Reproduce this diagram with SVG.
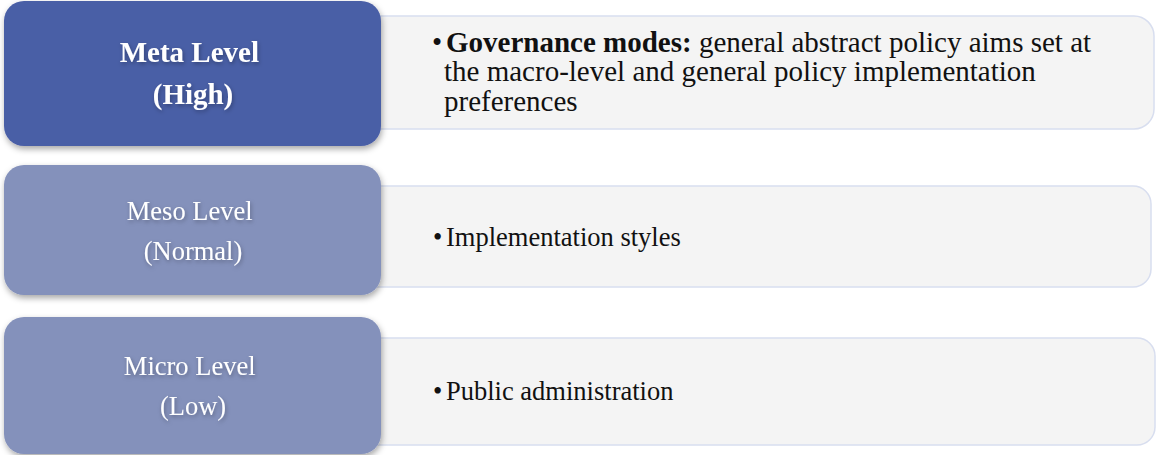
<svg xmlns="http://www.w3.org/2000/svg" width="1156" height="455" viewBox="0 0 1156 455">
  <defs>
    <filter id="boxShadow" x="-10%" y="-10%" width="125%" height="130%">
      <feDropShadow dx="1" dy="3" stdDeviation="3" flood-color="#000" flood-opacity="0.35"/>
    </filter>
    <filter id="txtShadow" x="-10%" y="-30%" width="120%" height="160%">
      <feDropShadow dx="1" dy="2" stdDeviation="2" flood-color="#000" flood-opacity="0.3"/>
    </filter>
  </defs>
  <style>
    .panel { fill: #f4f4f4; stroke: #d8deef; stroke-width: 1.5; }
    .lvlHigh { fill: #4a5ea6; }
    .lvl { fill: #8491bb; }
    .lvlTxt { font-family: "Liberation Serif", "Times New Roman", serif; fill: #ffffff; text-anchor: middle; }
    .body { font-family: "Liberation Serif", "Times New Roman", serif; fill: #111111; }
  </style>
  <rect width="1156" height="455" fill="#ffffff"/>

  <g id="panel-meta">
    <rect class="panel" x="360" y="16" width="794" height="113" rx="20"/>
    <text class="body" font-size="29">
      <tspan x="432" y="52">•</tspan><tspan x="446" y="52" font-weight="bold">Governance modes:</tspan><tspan> general abstract policy aims set at</tspan>
      <tspan x="444" y="81">the macro-level and general policy implementation</tspan>
      <tspan x="444" y="111">preferences</tspan>
    </text>
  </g>

  <g id="panel-meso">
    <rect class="panel" x="360" y="186" width="791" height="101" rx="18"/>
    <text class="body" font-size="26.5" y="246"><tspan x="433">•</tspan><tspan x="446">Implementation styles</tspan></text>
  </g>

  <g id="panel-micro">
    <rect class="panel" x="360" y="338" width="795" height="107" rx="18"/>
    <text class="body" font-size="26.5" y="400"><tspan x="433">•</tspan><tspan x="446">Public administration</tspan></text>
  </g>

  <g id="level-meta">
    <rect class="lvlHigh" x="4" y="1" width="377" height="145" rx="20" filter="url(#boxShadow)"/>
    <text class="lvlTxt" font-size="29" font-weight="bold" filter="url(#txtShadow)">
      <tspan x="193" y="62">Meta Level</tspan>
      <tspan x="193" y="104">(High)</tspan>
    </text>
  </g>

  <g id="level-meso">
    <rect class="lvl" x="4" y="165" width="377" height="130" rx="20" filter="url(#boxShadow)"/>
    <text class="lvlTxt" font-size="26.5" filter="url(#txtShadow)">
      <tspan x="193" y="220">Meso Level</tspan>
      <tspan x="193" y="260">(Normal)</tspan>
    </text>
  </g>

  <g id="level-micro">
    <rect class="lvl" x="4" y="317" width="377" height="137" rx="20" filter="url(#boxShadow)"/>
    <text class="lvlTxt" font-size="26.5" filter="url(#txtShadow)">
      <tspan x="193" y="375">Micro Level</tspan>
      <tspan x="193" y="415">(Low)</tspan>
    </text>
  </g>

  <g id="connectors"/>
</svg>
